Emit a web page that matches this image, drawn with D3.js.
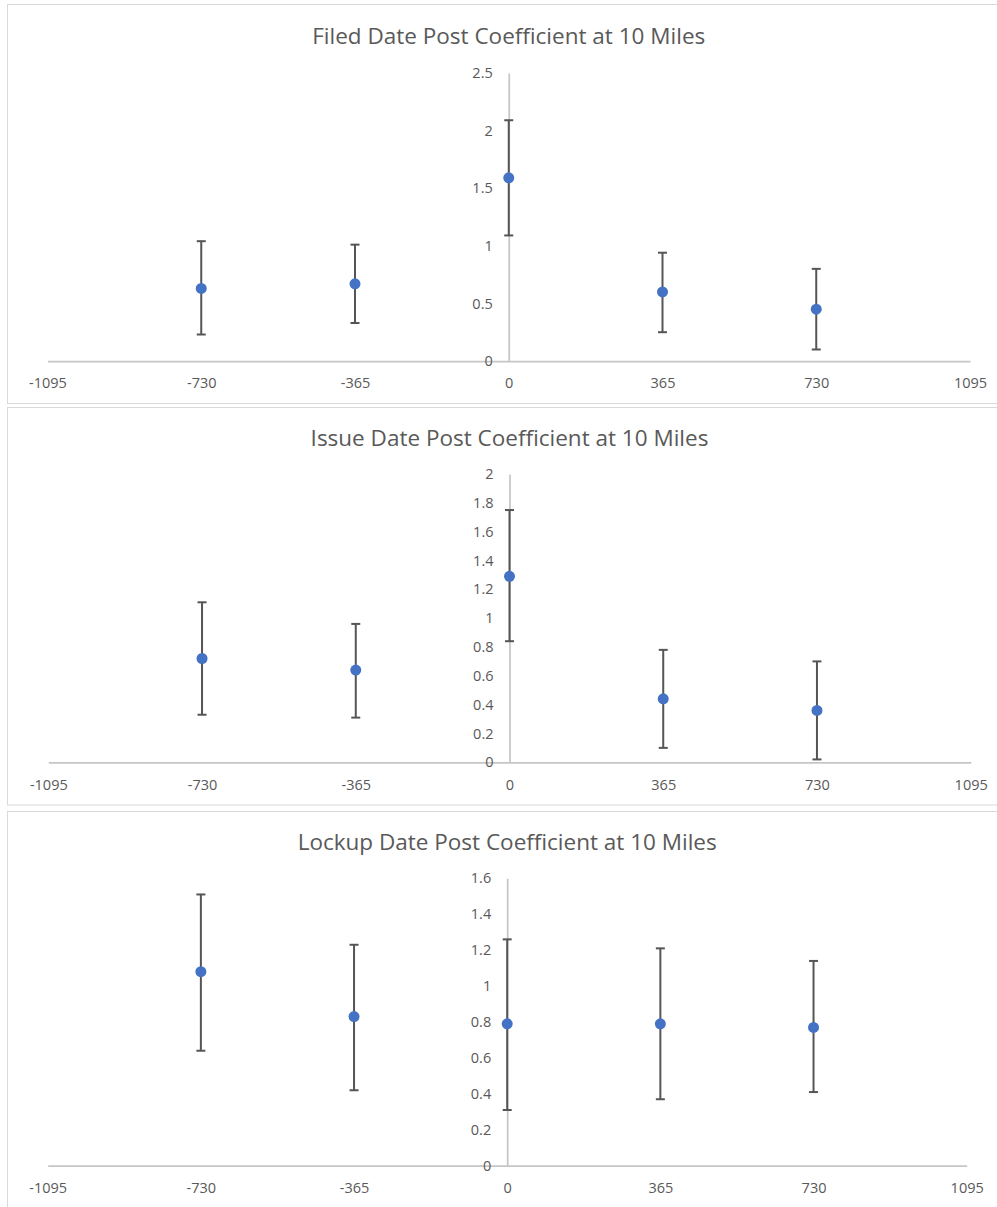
<!DOCTYPE html>
<html>
<head>
<meta charset="utf-8">
<script src="https://cdn.jsdelivr.net/npm/d3@7"></script>
<style>
  html, body { margin: 0; padding: 0; background: #ffffff; }
  svg { display: block; }
</style>
</head>
<body>
<svg id="chart" width="997" height="1207"></svg>
<script>
// ---- Data ----
const dayOffsets = [-730, -365, 0, 365, 730];
const xTickLabels = [-1095, -730, -365, 0, 365, 730, 1095];

const filedTitle = "Filed Date Post Coefficient at 10 Miles";
const filedCoef  = [0.63, 0.67, 1.59, 0.60, 0.45];
const filedUpper = [1.04, 1.01, 2.09, 0.94, 0.80];
const filedLower = [0.23, 0.33, 1.09, 0.25, 0.10];
const filedYTicks = [0, 0.5, 1, 1.5, 2, 2.5];

const issueTitle = "Issue Date Post Coefficient at 10 Miles";
const issueCoef  = [0.72, 0.64, 1.29, 0.44, 0.36];
const issueUpper = [1.11, 0.96, 1.75, 0.78, 0.70];
const issueLower = [0.33, 0.31, 0.84, 0.10, 0.02];
const issueYTicks = [0, 0.2, 0.4, 0.6, 0.8, 1, 1.2, 1.4, 1.6, 1.8, 2];

const lockupTitle = "Lockup Date Post Coefficient at 10 Miles";
const lockupCoef  = [1.08, 0.83, 0.79, 0.79, 0.77];
const lockupUpper = [1.51, 1.23, 1.26, 1.21, 1.14];
const lockupLower = [0.64, 0.42, 0.31, 0.37, 0.41];
const lockupYTicks = [0, 0.2, 0.4, 0.6, 0.8, 1, 1.2, 1.4, 1.6];

// ---- Layout (positions only) ----
const panels = [
  { title: filedTitle, coef: filedCoef, upper: filedUpper, lower: filedLower, yTicks: filedYTicks,
    box: [7.5, 4.5, 1010, 403.5], x0: 47.5, x1: 970, y0: 361, y1: 73, titleY: 35 },
  { title: issueTitle, coef: issueCoef, upper: issueUpper, lower: issueLower, yTicks: issueYTicks,
    box: [7.5, 407.5, 1010, 805], x0: 48.3, x1: 970.7, y0: 762.3, y1: 474, titleY: 437 },
  { title: lockupTitle, coef: lockupCoef, upper: lockupUpper, lower: lockupLower, yTicks: lockupYTicks,
    box: [7.5, 811.5, 1010, 1215], x0: 47.7, x1: 966.7, y0: 1165.7, y1: 878.3, titleY: 841 }
];

const textColor = "#595959";
const axisColor = "#c6c6c6";
const barColor = "#555555";
const pointColor = "#4472c4";
const fontFamily = "'Open Sans', 'Noto Sans', sans-serif";

const svg = d3.select("#chart");

panels.forEach(p => {
  const g = svg.append("g");
  // chart border
  g.append("rect")
    .attr("x", p.box[0]).attr("y", p.box[1])
    .attr("width", p.box[2] - p.box[0]).attr("height", p.box[3] - p.box[1])
    .attr("fill", "#fff").attr("stroke", "#d9d9d9").attr("stroke-width", 1);

  const x = d3.scaleLinear().domain([-1095, 1095]).range([p.x0, p.x1]);
  const yMax = p.yTicks[p.yTicks.length - 1];
  const y = d3.scaleLinear().domain([0, yMax]).range([p.y0, p.y1]);

  // title
  g.append("text")
    .attr("x", (p.x0 + p.x1) / 2).attr("y", p.titleY)
    .attr("text-anchor", "middle").attr("dominant-baseline", "central")
    .attr("font-family", fontFamily).attr("font-size", 22.5)
    .attr("fill", textColor)
    .text(p.title);

  // x axis (horizontal line at y=0)
  const xAxis = d3.axisBottom(x).tickValues(xTickLabels).tickSize(0).tickPadding(17)
    .tickFormat(d3.format("d"));
  const xg = g.append("g").attr("transform", `translate(0,${y(0)})`).call(xAxis);
  xg.select(".domain").attr("stroke", axisColor).attr("stroke-width", 1.75);
  xg.selectAll("text").attr("font-family", fontFamily).attr("font-size", 14.5).attr("fill", textColor)
    .text(d => d < 0 ? "-" + Math.abs(d) : d);

  // y axis (vertical line at x=0)
  const yAxis = d3.axisLeft(y).tickValues(p.yTicks).tickSize(0).tickPadding(16)
    .tickFormat(d => String(+d.toFixed(2)));
  const yg = g.append("g").attr("transform", `translate(${x(0)},0)`).call(yAxis);
  yg.select(".domain").attr("stroke", axisColor).attr("stroke-width", 1.75);
  yg.selectAll("text").attr("font-family", fontFamily).attr("font-size", 14.5).attr("fill", textColor);

  // error bars
  const data = dayOffsets.map((d, i) => ({ x: d, c: p.coef[i], u: p.upper[i], l: p.lower[i] }));
  const eb = g.append("g");
  eb.selectAll("line.stem").data(data).join("line").attr("class", "stem")
    .attr("x1", d => x(d.x)).attr("x2", d => x(d.x))
    .attr("y1", d => y(d.u)).attr("y2", d => y(d.l))
    .attr("stroke", barColor).attr("stroke-width", 2);
  eb.selectAll("line.capU").data(data).join("line").attr("class", "capU")
    .attr("x1", d => x(d.x) - 4.5).attr("x2", d => x(d.x) + 4.5)
    .attr("y1", d => y(d.u)).attr("y2", d => y(d.u))
    .attr("stroke", barColor).attr("stroke-width", 2);
  eb.selectAll("line.capL").data(data).join("line").attr("class", "capL")
    .attr("x1", d => x(d.x) - 4.5).attr("x2", d => x(d.x) + 4.5)
    .attr("y1", d => y(d.l)).attr("y2", d => y(d.l))
    .attr("stroke", barColor).attr("stroke-width", 2);

  // points
  g.append("g").selectAll("circle").data(data).join("circle")
    .attr("cx", d => x(d.x)).attr("cy", d => y(d.c)).attr("r", 5.5)
    .attr("fill", pointColor);
});
</script>
</body>
</html>
